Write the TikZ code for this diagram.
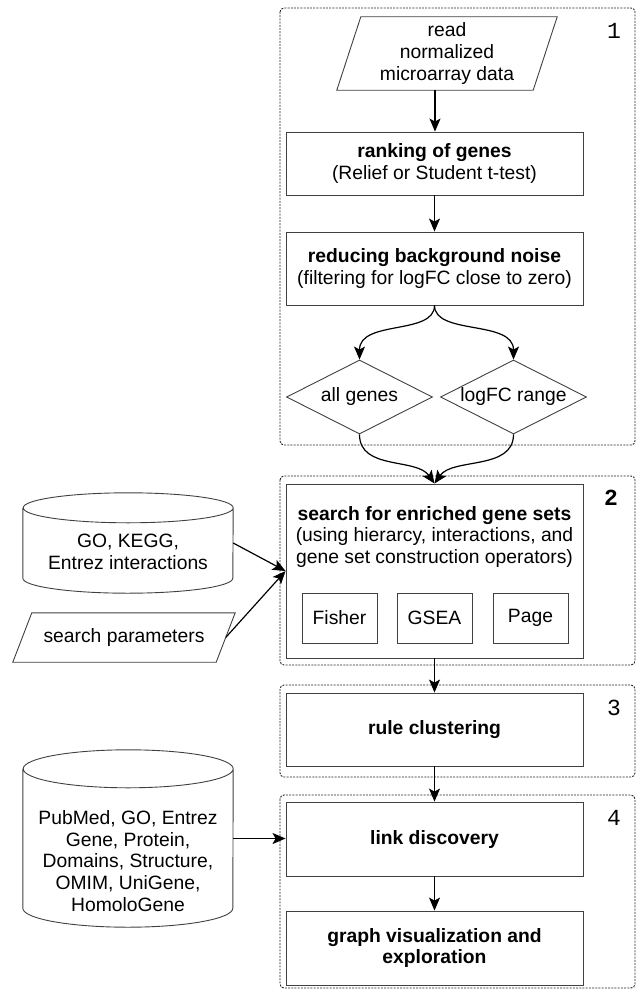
\documentclass[tikz,border=0pt]{standalone}
\usepackage{fontspec}
\setmainfont{Liberation Sans}
\newfontfamily\numfont{Liberation Mono}
\usetikzlibrary{shapes.geometric,arrows.meta,calc}

% outline of a database cylinder around node #1, cap half height #2, half width #3
\newcommand\cylinderoutline[3]{%
  \draw[shapeline] ([yshift=-#2]#1.north west) -- ([yshift=#2]#1.south west)
    arc[start angle=180,end angle=360,x radius=#3,y radius=#2]
    -- ([yshift=-#2]#1.north east)
    arc[start angle=0,end angle=180,x radius=#3,y radius=#2]
    arc[start angle=180,end angle=360,x radius=#3,y radius=#2];}

\begin{document}
\begin{tikzpicture}[x=1pt,y=1pt,
  every node/.style={font=\fontsize{19.3}{21.8}\selectfont, align=center, inner sep=0pt},
  shapeline/.style={draw=black!75, line width=0.9pt},
  box/.style={shapeline, minimum width=297pt},
  subbox/.style={shapeline, minimum width=75pt, minimum height=50pt},
  decision/.style={diamond, aspect=2, shapeline, minimum width=146pt, minimum height=74pt},
  group/.style={draw=black!85, line width=0.9pt, dash pattern=on 2pt off 1.2pt, rounded corners=4pt},
  conn/.style={line width=1.2pt, -{Stealth[length=13pt,width=11pt,inset=3pt]}},
  groupnum/.style={font=\numfont\fontsize{23}{24}\selectfont},
]
\useasboundingbox (0,0) rectangle (638,-990);

% stage frames
\draw[group] (280,-8) rectangle (635,-445);
\draw[group] (280,-476) rectangle (635,-665);
\draw[group] (280,-685) rectangle (635,-777);
\draw[group] (280,-795) rectangle (635,-988);
\node[groupnum] (n1) at (614,-31) {1};
\node[groupnum] (n2) at (611,-498) {\textbf{2}};
\node[groupnum] (n3) at (614,-708) {3};
\node[groupnum] (n4) at (614,-818) {4};

% stage 1
\node[minimum width=220pt, minimum height=73pt] (read) at (447,-53.5) {read\\normalized\\microarray data};
\draw[shapeline] (read.south west) -- ($(read.north west)+(24,0)$) -- (read.north east) -- ($(read.south east)+(-24,0)$) -- cycle;
\coordinate (readout) at ($(read.south)+(-12,0)$);

\node[box, minimum height=63pt] (rank) at (434.5,-163.5) {\textbf{ranking of genes}\\(Relief or Student t-test)};
\node[box, minimum height=73pt] (reduce) at (434.5,-268.5) {\textbf{reducing background noise}\\(filtering for logFC close to zero)};
\node[decision] (all) at (359.5,-397) {all genes};
\node[decision] (range) at (513.5,-397) {logFC range};

% stage 2
\node[box, minimum height=174pt] (search) at (434.5,-571) {};
\node (searchtext) at (434.5,-537) {\textbf{search for enriched gene sets}\\(using hierarcy, interactions, and\\gene set construction operators)};
\node[subbox] (fisher) at (339.5,-618) {Fisher};
\node[subbox] (gsea) at (434.5,-618) {GSEA};
\node[subbox] (page) at (530.5,-618) {Page};

% inputs to stage 2
\node[minimum width=210pt, minimum height=100pt] (db1) at (128,-543) {};
\cylinderoutline{db1}{15pt}{105pt}
\node (db1text) at (128,-552) {GO, KEGG,\\Entrez interactions};

\node[minimum width=222pt, minimum height=49pt] (params) at (124,-637.5) {search parameters};
\draw[shapeline] (params.south west) -- ($(params.north west)+(19,0)$) -- (params.north east) -- ($(params.south east)+(-19,0)$) -- cycle;
\coordinate (paramsout) at ($(params.east)+(-9.5,0)$);

% stage 3
\node[box, minimum height=73pt] (rule) at (434.5,-729.5) {\textbf{rule clustering}};

% stage 4
\node[box, minimum height=74pt] (link) at (434.5,-839) {\textbf{link discovery}};
\node[box, minimum height=74pt] (graph) at (434.5,-948) {\textbf{graph visualization and}\\\textbf{exploration}};

\node[minimum width=210pt, minimum height=177pt] (db2) at (128,-838.5) {};
\cylinderoutline{db2}{19pt}{105pt}
\node (db2text) at (128,-861) {PubMed, GO, Entrez\\Gene, Protein,\\Domains, Structure,\\OMIM, UniGene,\\HomoloGene};

% connectors
\draw[conn] (readout) -- (readout |- rank.north);
\draw[conn] (rank) -- (reduce);
\draw[conn] (reduce.south) .. controls +(0,-30) and +(0,40) .. (all.north);
\draw[conn] (reduce.south) .. controls +(0,-30) and +(0,40) .. (range.north);
\draw[conn] (all.south) .. controls +(0,-36) and +(-18,26) .. (search.north);
\draw[conn] (range.south) .. controls +(0,-36) and +(18,26) .. (search.north);
\draw[conn] (db1.east) -- (search.west);
\draw[conn] (paramsout) -- (search.west);
\draw[conn] (search) -- (rule);
\draw[conn] (rule) -- (link);
\draw[conn] (db2.east) -- (db2.east -| link.west);
\draw[conn] (link) -- (graph);
\end{tikzpicture}
\end{document}
